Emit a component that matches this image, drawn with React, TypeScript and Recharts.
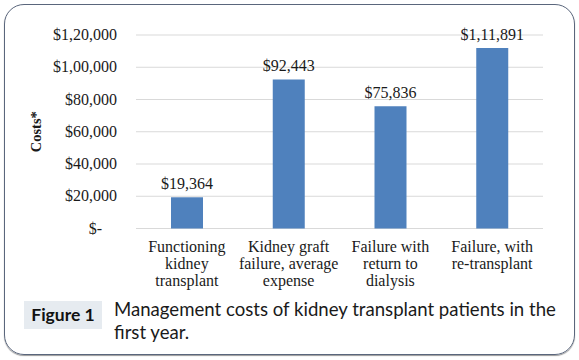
import { BarChart, Bar, XAxis, YAxis, CartesianGrid, LabelList } from 'recharts';

const categories = [
  'Functioning kidney transplant',
  'Kidney graft failure, average expense',
  'Failure with return to dialysis',
  'Failure, with re-transplant',
];
const categoryLines = [
  ['Functioning', 'kidney', 'transplant'],
  ['Kidney graft', 'failure, average', 'expense'],
  ['Failure with', 'return to', 'dialysis'],
  ['Failure, with', 're-transplant'],
];
const costs = [19364, 92443, 75836, 111891];
const yTicks = [0, 20000, 40000, 60000, 80000, 100000, 120000];

const data = categories.map((name, i) => ({ name, cost: costs[i], lines: categoryLines[i] }));

// Indian digit grouping, e.g. 120000 -> 1,20,000
const groupIndian = (n: number) => {
  const s = String(Math.round(n));
  if (s.length <= 3) return s;
  const last3 = s.slice(-3);
  const rest = s.slice(0, -3).replace(/\B(?=(\d{2})+(?!\d))/g, ',');
  return rest + ',' + last3;
};
const money = (v: number) => (v === 0 ? '$-' : '$' + groupIndian(v));

const serif = '"Liberation Serif", "Times New Roman", serif';

const YTick = ({ x, y, payload }: any) => (
  <text
    x={payload.value === 0 ? x - 15 : x}
    y={y}
    dy={5}
    textAnchor="end"
    fontFamily={serif}
    fontSize={16}
    fill="#1a1a1a"
  >
    {money(payload.value)}
  </text>
);

const XTick = ({ x, y, index }: any) => {
  const lines = categoryLines[index] || [];
  return (
    <text x={x} y={y} textAnchor="middle" fontFamily={serif} fontSize={16} fill="#1a1a1a">
      {lines.map((l, i) => (
        <tspan key={i} x={x} dy={i === 0 ? 15 : 17}>
          {l}
        </tspan>
      ))}
    </text>
  );
};

const CostsLabel = ({ viewBox }: any) => {
  const cx = 36;
  const cy = viewBox.y + viewBox.height / 2;
  return (
    <text
      x={cx}
      y={cy}
      dy={5}
      transform={`rotate(-90, ${cx}, ${cy})`}
      textAnchor="middle"
      fontFamily={serif}
      fontWeight="bold"
      fontSize={14.5}
      fill="#1a1a1a"
    >
      Costs*
    </text>
  );
};

export default function App() {
  return (
    <div
      style={{
        position: 'fixed',
        left: 0,
        top: 0,
        width: 579,
        height: 360,
        background: '#fff',
      }}
    >
      <div
        style={{
          position: 'absolute',
          left: 4,
          top: 4,
          width: 571,
          height: 351,
          boxSizing: 'border-box',
          border: '1.5px solid #5a667c',
          borderRadius: 20,
          boxShadow: '0 1px 1px #9a9a9a',
        }}
      />
      <div style={{ position: 'absolute', left: 0, top: 0 }}>
        <BarChart
          width={579}
          height={360}
          data={data}
          margin={{ top: 35, right: 36, left: 20, bottom: 71.5 }}
        >
          <CartesianGrid vertical={false} stroke="#d9d9d9" />
          <XAxis
            dataKey="name"
            axisLine={false}
            tickLine={false}
            height={60}
            interval={0}
            tick={<XTick />}
          />
          <YAxis
            width={116}
            domain={[0, 120000]}
            ticks={yTicks}
            axisLine={false}
            tickLine={false}
            tickSize={0}
            tickMargin={19}
            tick={<YTick />}
            label={<CostsLabel />}
          />
          <Bar dataKey="cost" fill="#4f81bd" barSize={32} isAnimationActive={false}>
            <LabelList
              dataKey="cost"
              position="top"
              offset={8}
              formatter={(v: any) => money(Number(v))}
              style={{ fontFamily: serif, fontSize: 16, fill: '#1a1a1a' }}
            />
          </Bar>
        </BarChart>
      </div>
      <div
        style={{
          position: 'absolute',
          left: 24,
          top: 301,
          width: 78,
          height: 28,
          background: '#e6ebf0',
          fontFamily: 'Lato, "Open Sans", sans-serif',
          fontWeight: 'bold',
          fontSize: 17.5,
          color: '#111',
          lineHeight: '28px',
          textAlign: 'center',
        }}
      >
        Figure 1
      </div>
      <div
        style={{
          position: 'absolute',
          left: 114,
          top: 298,
          width: 455,
          fontFamily: 'Lato, "Open Sans", sans-serif',
          fontSize: 18.6,
          lineHeight: '23px',
          color: '#1a1a1a',
        }}
      >
        Management costs of kidney transplant patients in the first year.
      </div>
    </div>
  );
}
